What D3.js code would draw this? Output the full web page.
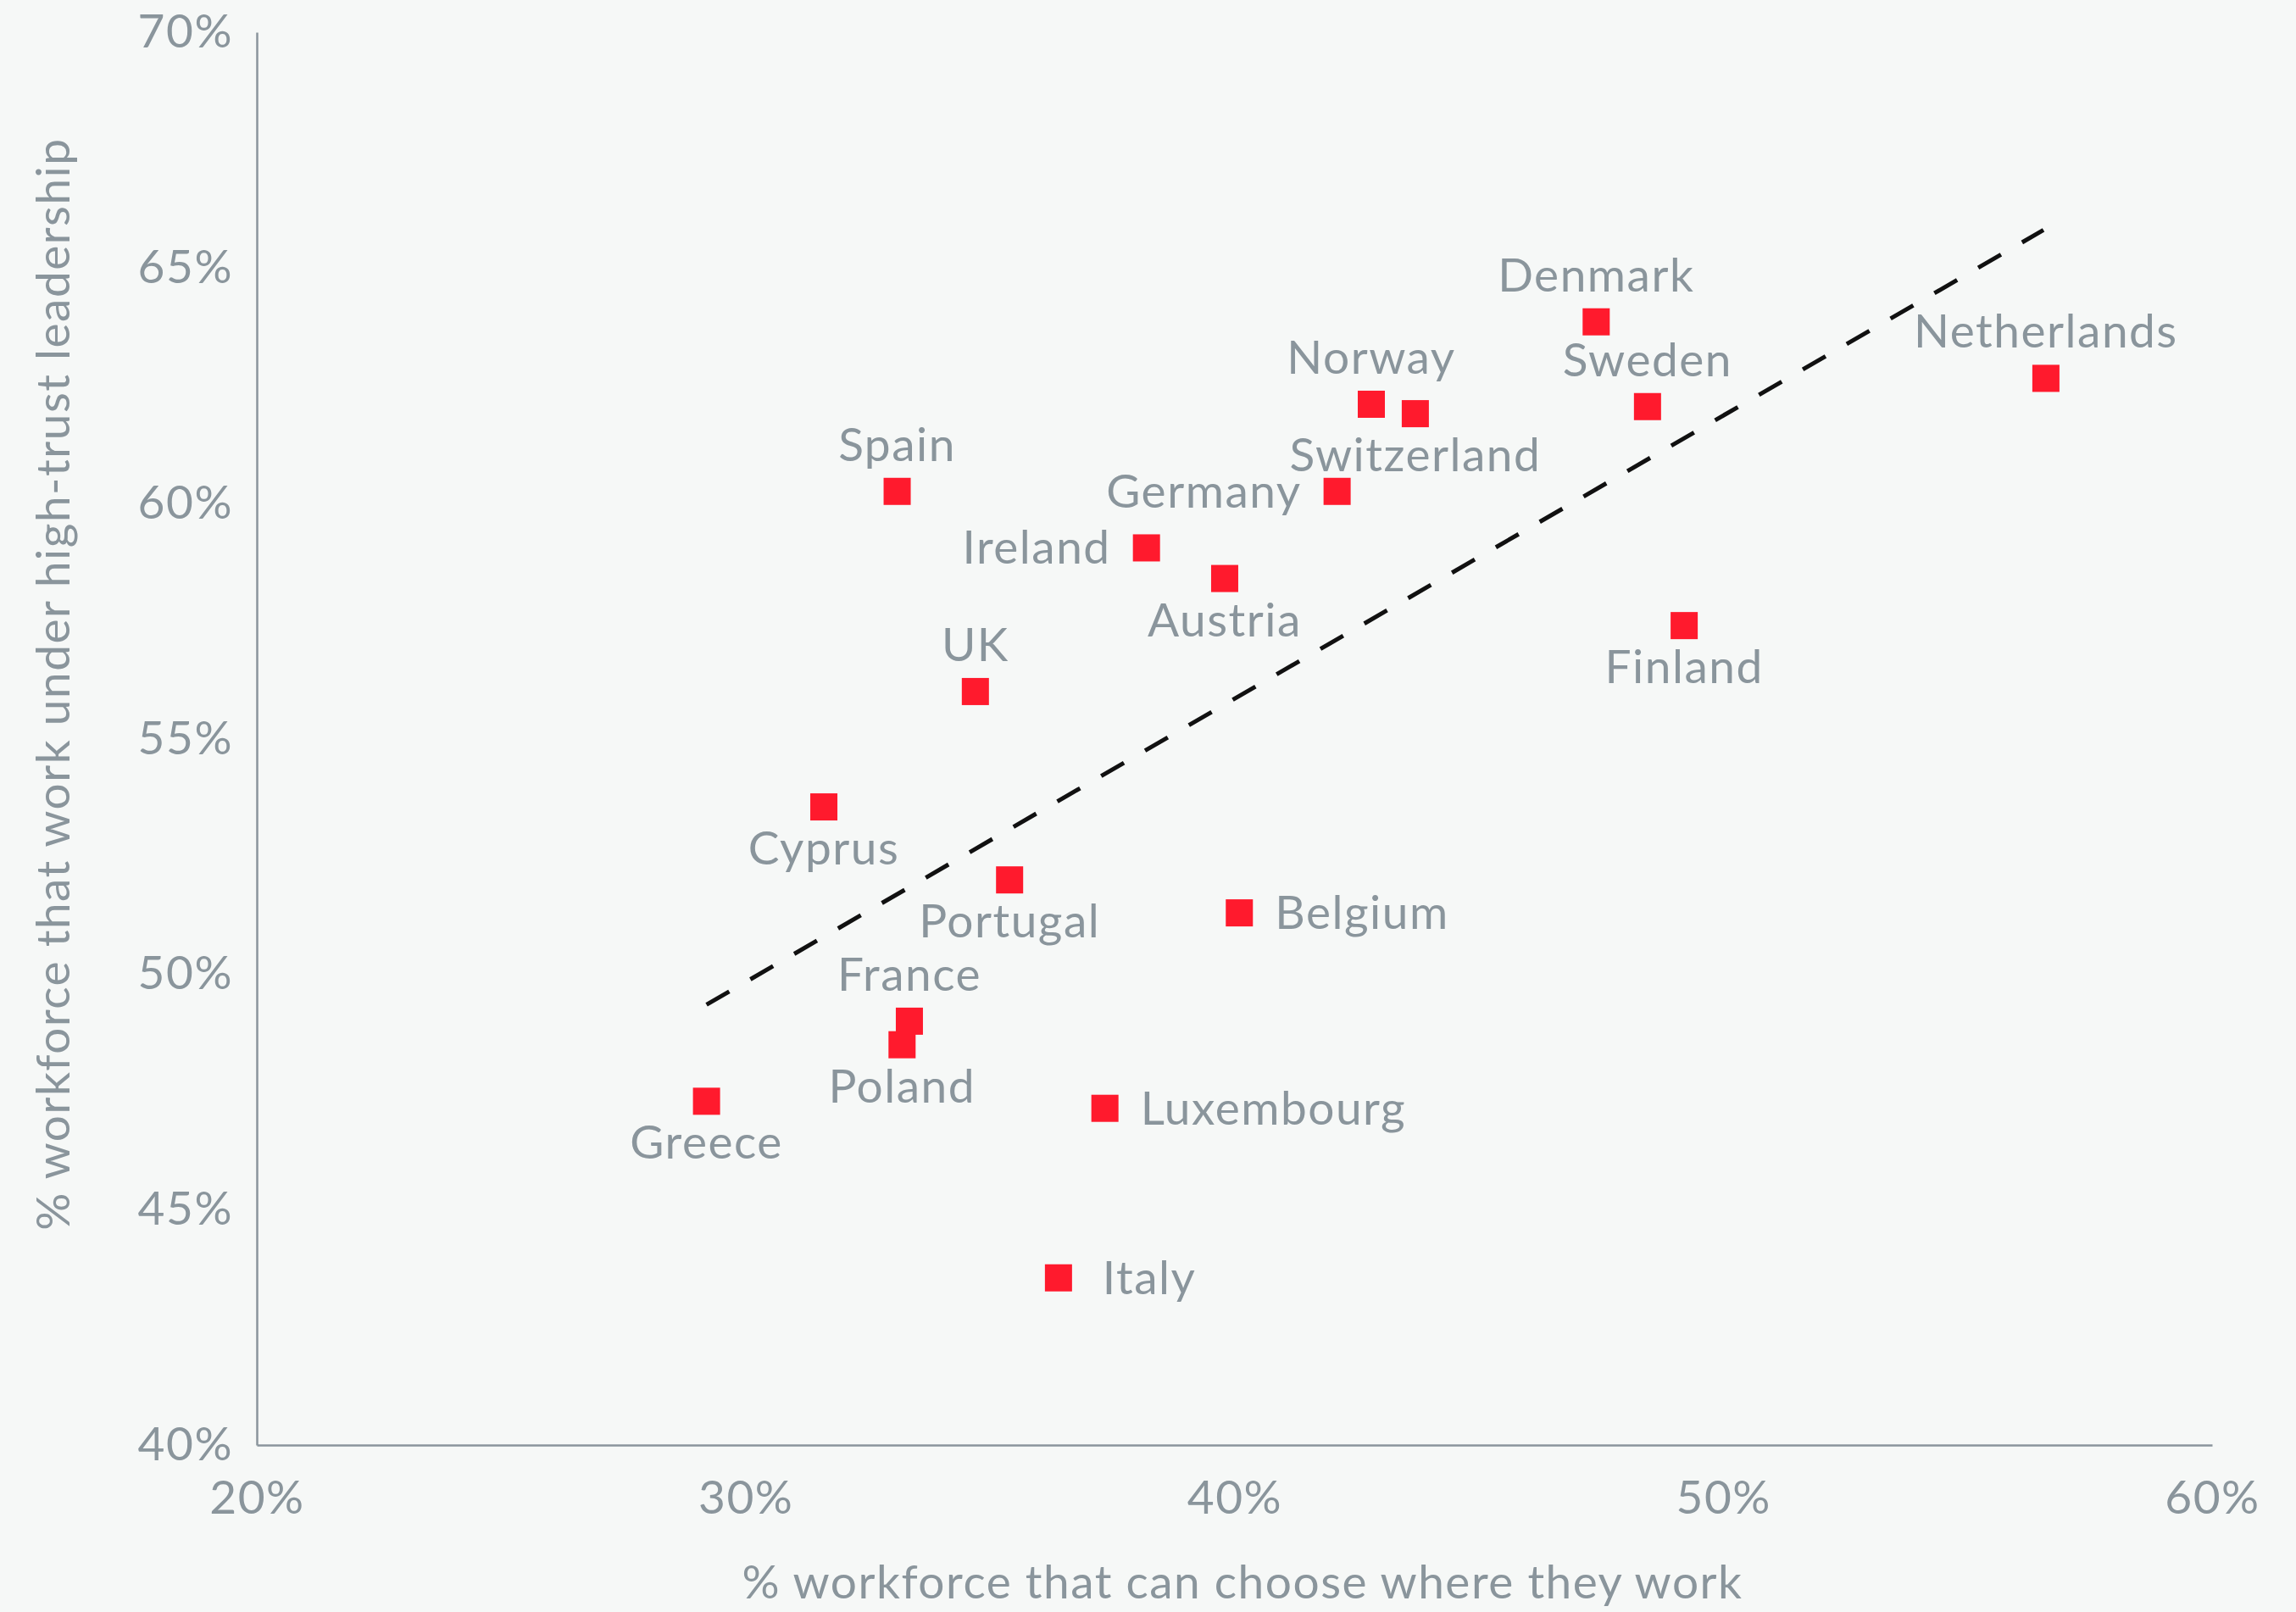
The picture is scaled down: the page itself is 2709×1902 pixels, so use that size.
<!DOCTYPE html>
<html>
  <head>
    <meta charset="utf-8">
    <script src="https://cdn.jsdelivr.net/npm/d3@7"></script>
    <style>
      body { margin: 0; background: #f6f8f7; }
      text { font-family: Lato, "Open Sans", sans-serif; fill: #8a959c; letter-spacing: 1.5px; }
    </style>
  </head>
  <body>
    <script>
      // values (percent)
      var countries = ["Denmark", "Netherlands", "Sweden", "Norway", "Switzerland", "Spain", "Germany",
                       "Ireland", "Austria", "Finland", "UK", "Cyprus", "Portugal", "Belgium",
                       "France", "Poland", "Greece", "Luxembourg", "Italy"];
      var chooseWhere = [47.4, 56.6, 48.45, 42.8, 43.7, 33.1, 42.1, 38.2, 39.8, 49.2, 34.7, 31.6, 35.4, 40.1,
                         33.35, 33.2, 29.2, 37.35, 36.4];
      var highTrust = [63.85, 62.65, 62.05, 62.1, 61.9, 60.25, 60.25, 59.05, 58.4, 57.4, 56.0, 53.55, 52.0, 51.3,
                       49.0, 48.5, 47.3, 47.15, 43.55];
      // where the name sits relative to its marker
      var labelSide = ["top", "top", "top", "top", "bottom", "top", "left", "left", "bottom", "bottom", "top",
                       "bottom", "bottom", "right", "top", "bottom", "bottom", "right", "right"];
      var trendX = [29.2, 56.55];
      var trendY = [49.35, 65.8];
      var xTicks = [20, 30, 40, 50, 60];
      var yTicks = [40, 45, 50, 55, 60, 65, 70];

      var width = 2709, height = 1902;
      var margin = {left: 303, right: 99, top: 38, bottom: 197};
      var fs = 55;

      var svg = d3.select("body").append("svg")
          .attr("width", width)
          .attr("height", height);

      svg.append("rect").attr("width", width).attr("height", height).attr("fill", "#f6f8f7");

      var x = d3.scaleLinear().domain([20, 60]).range([margin.left, width - margin.right]);
      var y = d3.scaleLinear().domain([40, 70]).range([height - margin.bottom, margin.top]);

      var xAxis = svg.append("g")
          .attr("transform", "translate(0," + (height - margin.bottom) + ")")
          .call(d3.axisBottom(x).tickValues(xTicks).tickSize(0).tickPadding(42).tickFormat(function(d) { return d + "%"; }));
      var yAxis = svg.append("g")
          .attr("transform", "translate(" + margin.left + ",0)")
          .call(d3.axisLeft(y).tickValues(yTicks).tickSize(0).tickPadding(28).tickFormat(function(d) { return d + "%"; }));

      [xAxis, yAxis].forEach(function(g) {
        g.select(".domain").attr("stroke", "#8a959c").attr("stroke-width", 2.5);
        g.selectAll("text").style("font-size", fs + "px").attr("fill", "#8a959c");
      });

      // axis titles
      svg.append("text")
          .attr("x", 1466).attr("y", 1886)
          .attr("text-anchor", "middle")
          .style("font-size", fs + "px")
          .text("% workforce that can choose where they work");
      svg.append("text")
          .attr("transform", "translate(82,807) rotate(-90)")
          .attr("text-anchor", "middle")
          .style("font-size", fs + "px")
          .text("% workforce that work under high-trust leadership");

      // trend line
      svg.append("line")
          .attr("x1", x(trendX[0])).attr("y1", y(trendY[0]))
          .attr("x2", x(trendX[1])).attr("y2", y(trendY[1]))
          .attr("stroke", "#111")
          .attr("stroke-width", 5)
          .attr("stroke-dasharray", "31,28.8");

      var data = countries.map(function(c, i) {
        return {name: c, x: chooseWhere[i], y: highTrust[i], side: labelSide[i]};
      });

      var s = 32;
      svg.append("g").selectAll("rect")
        .data(data)
        .join("rect")
          .attr("x", function(d) { return x(d.x) - s / 2; })
          .attr("y", function(d) { return y(d.y) - s / 2; })
          .attr("width", s)
          .attr("height", s)
          .attr("fill", "#ff1a2d");

      svg.append("g").selectAll("text")
        .data(data)
        .join("text")
          .style("font-size", fs + "px")
          .attr("text-anchor", function(d) {
            if (d.side == "left") return "end";
            if (d.side == "right") return "start";
            return "middle";
          })
          .attr("x", function(d) {
            if (d.side == "left") return x(d.x) - 42;
            if (d.side == "right") return x(d.x) + (d.name == "Italy" ? 52 : 42);
            return x(d.x);
          })
          .attr("y", function(d) {
            if (d.side == "top") return y(d.y) - 36;
            if (d.side == "bottom") return y(d.y) + 68;
            return y(d.y) + 19;
          })
          .text(function(d) { return d.name; });
    </script>
  </body>
</html>
